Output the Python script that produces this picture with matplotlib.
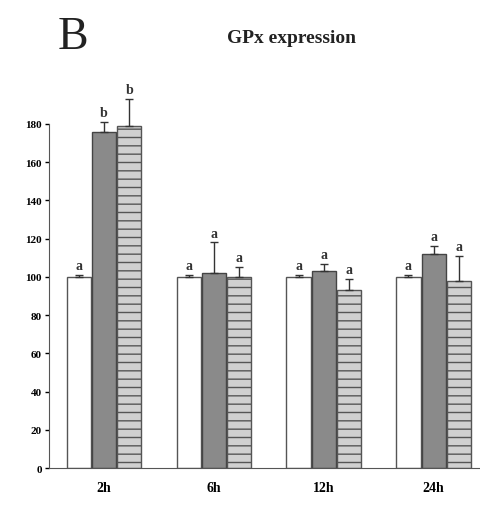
import matplotlib.pyplot as plt
import numpy as np

plt.rcParams['font.family'] = ['Liberation Serif', 'DejaVu Serif']
plt.rcParams['hatch.linewidth'] = 1.0

times = ['2h', '6h', '12h', '24h']
control = [100, 100, 100, 100]
control_err = [1, 1, 1, 1]
treat1 = [176, 102, 103, 112]
treat1_err = [5, 16, 4, 4]
treat2 = [179, 100, 93, 98]
treat2_err = [14, 5, 6, 13]
letters1 = ['a', 'a', 'a', 'a']
letters2 = ['b', 'a', 'a', 'a']
letters3 = ['b', 'a', 'a', 'a']

fig = plt.figure(figsize=(4.81, 5.06), dpi=100)
ax = fig.add_axes([0.102, 0.073, 0.898, 0.680])

x = np.arange(len(times))
w = 0.22
off = 0.23

series = [
    (control, control_err, letters1, dict(color='white', edgecolor='#555555')),
    (treat1, treat1_err, letters2, dict(color='#8a8a8a', edgecolor='#444444')),
    (treat2, treat2_err, letters3, dict(color='#d0d0d0', edgecolor='#555555', hatch='--')),
]

for k, (vals, errs, labs, style) in enumerate(series):
    xs = x + (k - 1) * off
    ax.bar(xs, vals, w, linewidth=1.0, **style)
    ax.errorbar(xs, vals, yerr=[np.zeros(len(vals)), errs], fmt='none',
                ecolor='#333333', elinewidth=1.0, capsize=3, clip_on=False)
    for xi, v, e, lab in zip(xs, vals, errs, labs):
        ax.text(xi, v + e + 1.5, lab, ha='center', va='bottom',
                fontsize=10, fontweight='bold', color='#333333', clip_on=False)

ax.set_xlim(-0.5, 3.43)
ax.set_ylim(0, 180)
ax.set_yticks(np.arange(0, 181, 20))
ax.set_xticks(x)
ax.set_xticklabels(times)
ax.tick_params(axis='x', length=0, pad=9, labelsize=10)
ax.tick_params(axis='y', length=3, width=1, direction='out', pad=2, labelsize=8)
for lab in ax.get_xticklabels() + ax.get_yticklabels():
    lab.set_fontweight('bold')
ax.spines['top'].set_visible(False)
ax.spines['right'].set_visible(False)
ax.spines['left'].set_color('#555555')
ax.spines['bottom'].set_color('#555555')

fig.text(0.152, 0.925, 'B', fontsize=33, ha='center', va='center', color='#222222')
fig.text(0.605, 0.924, 'GPx expression', fontsize=14, fontweight='bold',
         ha='center', va='center', color='#222222')

fig.savefig('out.png', dpi=100)
